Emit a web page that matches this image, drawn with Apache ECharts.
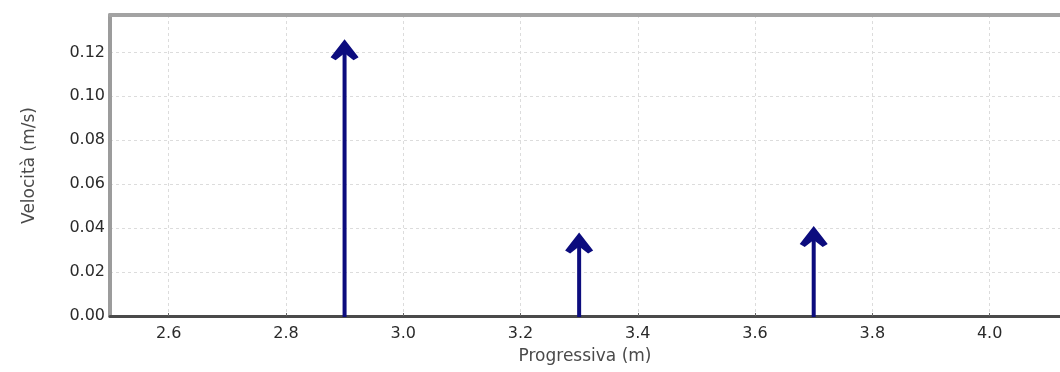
<!DOCTYPE html>
<html>
<head>
<meta charset="utf-8">
<script src="https://cdn.jsdelivr.net/npm/echarts@6/dist/echarts.min.js"></script>
<style>
html,body{margin:0;padding:0;background:#fff;}
#chart{width:1060px;height:372px;}
</style>
</head>
<body>
<div id="chart"></div>
<script>
// Data
const positions = [2.9, 3.3, 3.7];          // Progressiva (m)
const velocities = [0.126, 0.038, 0.041];   // Velocità (m/s)
const xTitle = 'Progressiva (m)';
const yTitle = 'Velocità (m/s)';
const xRange = [2.5, 4.12];
const yRange = [0, 0.137];

const arrowColor = '#0c0c7e';
const chart = echarts.init(document.getElementById('chart'));

const seriesData = positions.map((p, i) => [p, velocities[i]]);

chart.setOption({
  backgroundColor: '#ffffff',
  animation: false,
  grid: { left: 110, right: -22, top: 15, bottom: 56, containLabel: false },
  xAxis: [{
    type: 'value',
    position: 'bottom',
    min: xRange[0], max: xRange[1],
    splitNumber: 8,
    name: xTitle,
    nameLocation: 'middle',
    nameGap: 32,
    nameTextStyle: { fontFamily: 'DejaVu Sans', fontSize: 17, color: '#4a4a4a' },
    axisLine: { show: true, onZero: false, lineStyle: { color: '#4a4a4a', width: 3 } },
    axisTick: { show: true, inside: true, length: 3, lineStyle: { color: '#666' } },
    axisLabel: {
      showMinLabel: false, showMaxLabel: false,
      fontFamily: 'DejaVu Sans', fontSize: 16, color: '#2a2a2a', margin: 10,
      formatter: v => v.toFixed(1)
    },
    splitLine: { show: true, lineStyle: { color: '#dcdcdc', type: [3, 3], width: 1 } }
  }, {
    type: 'value',
    position: 'top',
    min: xRange[0], max: xRange[1],
    axisLine: { show: true, onZero: false, lineStyle: { color: '#a3a3a3', width: 4 } },
    axisTick: { show: false },
    axisLabel: { show: false },
    splitLine: { show: false }
  }],
  yAxis: {
    type: 'value',
    min: yRange[0], max: yRange[1],
    interval: 0.02,
    name: yTitle,
    nameLocation: 'middle',
    nameGap: 72,
    nameRotate: 90,
    nameTextStyle: { fontFamily: 'DejaVu Sans', fontSize: 17, color: '#4a4a4a' },
    axisLine: { show: true, onZero: false, lineStyle: { color: '#9c9c9c', width: 4 } },
    axisTick: { show: false },
    axisLabel: {
      showMaxLabel: false,
      fontFamily: 'DejaVu Sans', fontSize: 16, color: '#2a2a2a', margin: 5,
      formatter: v => v.toFixed(2)
    },
    splitLine: { show: true, lineStyle: { color: '#dcdcdc', type: [3, 3], width: 1 } }
  },
  series: [{
    type: 'custom',
    xAxisIndex: 0,
    yAxisIndex: 0,
    data: seriesData,
    clip: false,
    z: 5,
    renderItem: function (params, api) {
      const x = api.value(0), v = api.value(1);
      const p0 = api.coord([x, 0]);
      const p1 = api.coord([x, v]);
      const cx = p1[0], ty = p1[1];
      return {
        type: 'group',
        children: [{
          type: 'line',
          shape: { x1: p0[0], y1: p0[1] + 1, x2: cx, y2: ty + 8 },
          style: { stroke: arrowColor, lineWidth: 4 }
        }, {
          type: 'polygon',
          shape: { points: [
            [cx, ty], [cx + 14, ty + 18], [cx + 9, ty + 21], [cx, ty + 14],
            [cx - 9, ty + 21], [cx - 14, ty + 18]
          ] },
          style: { fill: arrowColor, stroke: null }
        }]
      };
    }
  }]
});
</script>
</body>
</html>
